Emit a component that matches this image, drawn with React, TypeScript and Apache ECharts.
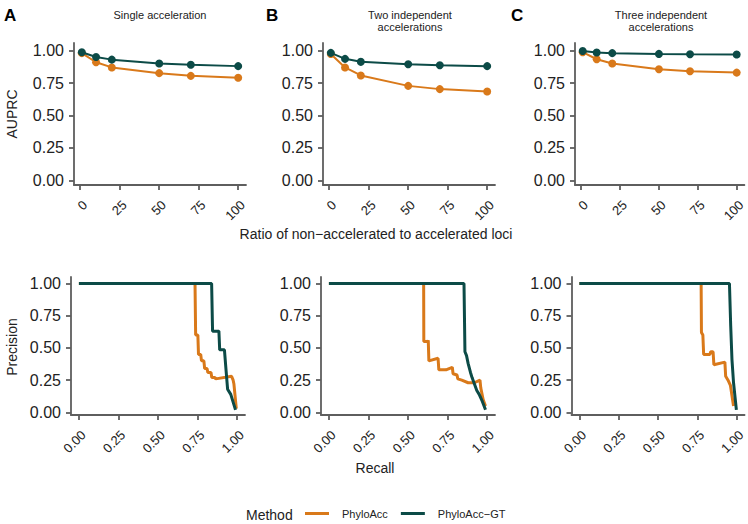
import React, { useEffect, useRef } from "react";
import * as echarts from "echarts";

// ---- data ----
const ratios = [1, 10, 20, 50, 70, 100];
const ratioTicks = [0, 25, 50, 75, 100];
const unitTicks = [0, 0.25, 0.5, 0.75, 1];

const auprcA_PhyloAcc = [0.98, 0.91, 0.87, 0.826, 0.805, 0.79];
const auprcA_GT = [0.987, 0.95, 0.93, 0.9, 0.89, 0.88];
const auprcB_PhyloAcc = [0.974, 0.87, 0.808, 0.728, 0.703, 0.685];
const auprcB_GT = [0.982, 0.936, 0.913, 0.895, 0.887, 0.88];
const auprcC_PhyloAcc = [0.987, 0.933, 0.9, 0.856, 0.841, 0.83];
const auprcC_GT = [0.997, 0.985, 0.98, 0.974, 0.972, 0.97];

const prA_PhyloAcc = [
  [0, 1], [0.734, 1], [0.738, 0.6], [0.752, 0.6], [0.756, 0.45], [0.77, 0.45],
  [0.775, 0.4], [0.79, 0.4], [0.795, 0.34], [0.81, 0.34], [0.815, 0.31],
  [0.835, 0.31], [0.84, 0.27], [0.86, 0.27], [0.865, 0.26], [0.965, 0.28],
  [0.975, 0.25], [0.98, 0.22], [0.995, 0.03],
];
const prA_GT = [
  [0, 1], [0.839, 1], [0.845, 0.63], [0.885, 0.63], [0.89, 0.485],
  [0.92, 0.485], [0.93, 0.33], [0.94, 0.18], [0.96, 0.14], [0.99, 0.02],
];
const prB_PhyloAcc = [
  [0, 1], [0.599, 1], [0.6, 0.55], [0.625, 0.55], [0.628, 0.56], [0.632, 0.4],
  [0.69, 0.42], [0.695, 0.33], [0.74, 0.33], [0.78, 0.35], [0.785, 0.3],
  [0.81, 0.29], [0.815, 0.26], [0.84, 0.25], [0.88, 0.23], [0.92, 0.23],
  [0.955, 0.25], [0.96, 0.19], [0.975, 0.1], [0.99, 0.05],
];
const prB_GT = [
  [0, 1], [0.854, 1], [0.86, 0.47], [0.87, 0.44], [0.88, 0.38], [0.895, 0.31],
  [0.905, 0.27], [0.92, 0.22], [0.935, 0.17], [0.95, 0.14], [0.97, 0.085],
  [0.99, 0.02],
];
const prC_PhyloAcc = [
  [0, 1], [0.774, 1], [0.776, 0.62], [0.785, 0.6], [0.79, 0.45], [0.83, 0.45],
  [0.835, 0.47], [0.85, 0.47], [0.855, 0.37], [0.925, 0.39], [0.93, 0.28],
  [0.945, 0.25], [0.96, 0.21], [0.98, 0.05],
];
const prC_GT = [
  [0, 1], [0.954, 1], [0.962, 0.67], [0.97, 0.41], [0.98, 0.23], [0.998, 0.02],
];

const methods = ["PhyloAcc", "PhyloAcc\u2212GT"];
const panelLetters = ["A", "B", "C"];
const panelTitles = [
  "Single acceleration",
  "Two independent\naccelerations",
  "Three independent\naccelerations",
];

// ---- styles ----
const ORANGE = "#D9791A";
const GREEN = "#0C4B47";
const AXIS = "#5e5e5e";
const TEXT = "#222222";
const FONT = "'Liberation Sans', Arial, sans-serif";

const topLefts = [74, 323, 575];
const botLefts = [71, 321, 571.5];
const titleCenters = [160, 410, 661];
const letterX = [4, 266, 511];

export default function App() {
  const ref = useRef<HTMLDivElement>(null);
  useEffect(() => {
    if (!ref.current) return;
    const chart = echarts.init(ref.current, null, { renderer: "svg" });

    const axisLine = { show: true, onZero: false, lineStyle: { color: AXIS, width: 1.8 } };
    const tickStyle = { color: AXIS, width: 1.8 };

    const grids: any[] = [];
    const xAxes: any[] = [];
    const yAxes: any[] = [];
    const series: any[] = [];

    const aucData = [
      [auprcA_PhyloAcc, auprcA_GT],
      [auprcB_PhyloAcc, auprcB_GT],
      [auprcC_PhyloAcc, auprcC_GT],
    ];
    const prData = [
      [prA_PhyloAcc, prA_GT],
      [prB_PhyloAcc, prB_GT],
      [prC_PhyloAcc, prC_GT],
    ];

    const xLabel = (vals: number[], fmt: (v: number) => string) => ({
      customValues: vals, rotate: 45, fontSize: 13, color: TEXT, fontFamily: FONT,
      margin: 13, verticalAlign: "top", align: "right", formatter: fmt,
    });
    const yLabel = {
      customValues: unitTicks, fontSize: 16, color: TEXT, fontFamily: FONT, margin: 10,
      formatter: (v: number) => v.toFixed(2),
    };

    for (let i = 0; i < 3; i++) {
      grids.push({ left: topLefts[i], top: 43, width: 172, height: 142 });
      xAxes.push({
        gridIndex: i, type: "value", min: -3.95, max: 104.95,
        axisLine,
        axisTick: { show: true, length: 5, customValues: ratioTicks, lineStyle: tickStyle },
        axisLabel: xLabel(ratioTicks, (v: number) => String(v)),
        splitLine: { show: false },
      });
      yAxes.push({
        gridIndex: i, type: "value", min: -0.035, max: 1.058,
        axisLine,
        axisTick: { show: true, length: 5, customValues: unitTicks, lineStyle: tickStyle },
        axisLabel: yLabel,
        splitLine: { show: false },
      });
      [0, 1].forEach((m) => {
        series.push({
          type: "line", name: methods[m], xAxisIndex: i, yAxisIndex: i,
          data: ratios.map((r, k) => [r, aucData[i][m][k]]),
          symbol: "circle", symbolSize: 8, showSymbol: true,
          lineStyle: { width: 2, color: m === 0 ? ORANGE : GREEN },
          itemStyle: { color: m === 0 ? ORANGE : GREEN },
          z: 2 + m,
        });
      });
    }
    for (let i = 0; i < 3; i++) {
      const gi = 3 + i;
      grids.push({ left: botLefts[i], top: 277, width: 174, height: 138 });
      xAxes.push({
        gridIndex: gi, type: "value", min: -0.05, max: 1.05,
        axisLine,
        axisTick: { show: true, length: 5, customValues: unitTicks, lineStyle: tickStyle },
        axisLabel: xLabel(unitTicks, (v: number) => v.toFixed(2)),
        splitLine: { show: false },
      });
      yAxes.push({
        gridIndex: gi, type: "value", min: -0.02, max: 1.05,
        axisLine,
        axisTick: { show: true, length: 5, customValues: unitTicks, lineStyle: tickStyle },
        axisLabel: yLabel,
        splitLine: { show: false },
      });
      [0, 1].forEach((m) => {
        series.push({
          type: "line", name: methods[m], xAxisIndex: gi, yAxisIndex: gi,
          data: prData[i][m], showSymbol: false, symbol: "none",
          lineStyle: { width: 3, color: m === 0 ? ORANGE : GREEN },
          itemStyle: { color: m === 0 ? ORANGE : GREEN },
          z: 2 + m,
        });
      });
    }

    const graphic: any[] = [];
    for (let i = 0; i < 3; i++) {
      graphic.push({
        type: "text", left: letterX[i], top: 7,
        style: { text: panelLetters[i], fontSize: 17, fontWeight: "bold", fill: "#000", fontFamily: FONT },
      });
      graphic.push({
        type: "text", x: titleCenters[i], y: i === 0 ? 15 : 21,
        style: {
          text: panelTitles[i], fontSize: 11, fill: TEXT, fontFamily: FONT,
          align: "center", verticalAlign: "middle", lineHeight: 12,
        },
      });
    }
    graphic.push(
      {
        type: "text", x: 12, y: 114, rotation: Math.PI / 2,
        style: { text: "AUPRC", fontSize: 14, fill: TEXT, fontFamily: FONT, align: "center", verticalAlign: "middle" },
      },
      {
        type: "text", x: 12, y: 347, rotation: Math.PI / 2,
        style: { text: "Precision", fontSize: 14, fill: TEXT, fontFamily: FONT, align: "center", verticalAlign: "middle" },
      },
      {
        type: "text", x: 376, y: 234,
        style: {
          text: "Ratio of non\u2212accelerated to accelerated loci", fontSize: 14, fill: TEXT,
          fontFamily: FONT, align: "center", verticalAlign: "middle",
        },
      },
      {
        type: "text", x: 375, y: 468,
        style: { text: "Recall", fontSize: 14, fill: TEXT, fontFamily: FONT, align: "center", verticalAlign: "middle" },
      },
      {
        type: "text", x: 246, y: 515,
        style: { text: "Method", fontSize: 14, fill: TEXT, fontFamily: FONT, align: "left", verticalAlign: "middle" },
      }
    );

    chart.setOption({
      animation: false,
      backgroundColor: "#ffffff",
      grid: grids,
      xAxis: xAxes,
      yAxis: yAxes,
      series,
      graphic,
      legend: {
        data: methods.map((m) => ({ name: m, icon: "rect" })),
        left: 305, top: 508, padding: 0, itemWidth: 24, itemHeight: 3, itemGap: 13,
        textStyle: { fontSize: 11, color: TEXT, fontFamily: FONT, padding: [0, 0, 0, 8] },
        selectedMode: false,
      },
    });
    return () => chart.dispose();
  }, []);

  return (
    <div
      ref={ref}
      style={{ position: "fixed", left: 0, top: 0, width: 748, height: 524, background: "#fff" }}
    />
  );
}
